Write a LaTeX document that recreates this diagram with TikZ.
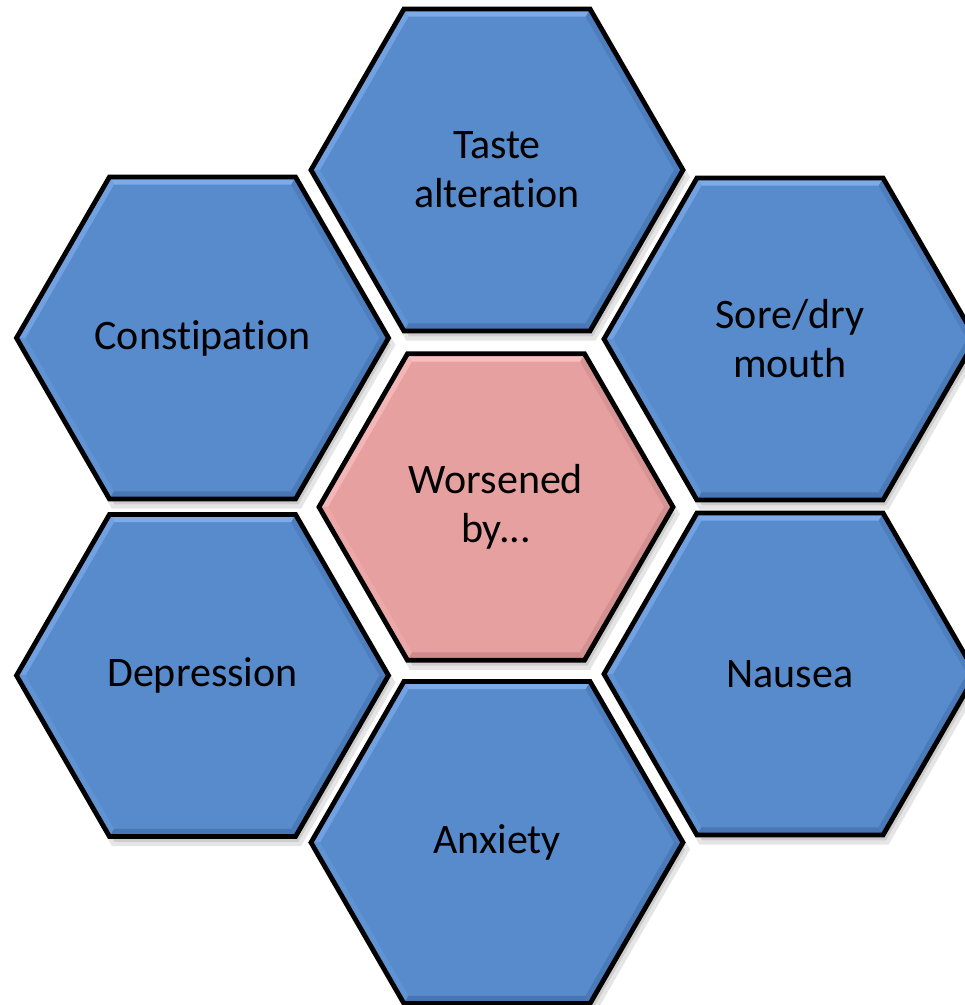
\documentclass[tikz,border=0pt]{standalone}
\usepackage{fontspec}
\setmainfont[RawFeature={-liga;-clig;-dlig;-calt}]{Carlito}
\usetikzlibrary{calc}
\definecolor{bluebase}{RGB}{87,139,204}
\definecolor{bluelight}{RGB}{124,171,234}
\definecolor{bluedark}{RGB}{72,118,180}
\definecolor{pinkbase}{RGB}{230,160,159}
\definecolor{pinklight}{RGB}{248,190,190}
\definecolor{pinkdark}{RGB}{206,140,140}
\tikzset{
  hexline/.style={draw=black,line width=4.8pt,line join=miter},
  hexlabel/.style={font=\fontsize{42}{49}\selectfont,align=center,text=black,inner sep=0pt},
  hexshadow/.style={fill=black,opacity=0.10}
}
% #1 name, #2 x, #3 y, #4 radius, #5 base, #6 light, #7 dark, #8 text
\newcommand\hexcell[8]{%
  \coordinate (#1-c) at (#2,#3);
  \foreach \i in {0,...,5}{%
    \coordinate (#1-o\i) at ($(#1-c)+(\i*60:#4)$);
    \coordinate (#1-n\i) at ($(#1-c)+(\i*60:#4-9)$);
    \coordinate (#1-s\i) at ($(#1-c)+(4,-7)+(\i*60:#4+3)$);
    \coordinate (#1-t\i) at ($(#1-c)+(4,-7)+(\i*60:#4-2)$);
  }
  \fill[hexshadow] (#1-s0)--(#1-s1)--(#1-s2)--(#1-s3)--(#1-s4)--(#1-s5)--cycle;
  \fill[hexshadow] (#1-t0)--(#1-t1)--(#1-t2)--(#1-t3)--(#1-t4)--(#1-t5)--cycle;
  \fill[#5] (#1-o0)--(#1-o1)--(#1-o2)--(#1-o3)--(#1-o4)--(#1-o5)--cycle;
  \fill[#7!60!#5] (#1-o0)--(#1-o1)--(#1-n1)--(#1-n0)--cycle;
  \fill[#6] (#1-o1)--(#1-o2)--(#1-n2)--(#1-n1)--cycle;
  \fill[#6!70!#5] (#1-o2)--(#1-o3)--(#1-n3)--(#1-n2)--cycle;
  \fill[#6!25!#5] (#1-o3)--(#1-o4)--(#1-n4)--(#1-n3)--cycle;
  \fill[#7] (#1-o4)--(#1-o5)--(#1-n5)--(#1-n4)--cycle;
  \fill[#7!80!#5] (#1-o5)--(#1-o0)--(#1-n0)--(#1-n5)--cycle;
  \draw[hexline] (#1-o0)--(#1-o1)--(#1-o2)--(#1-o3)--(#1-o4)--(#1-o5)--cycle;
  \node[hexlabel] (#1) at (#1-c) {#8};
}
\begin{document}
\begin{tikzpicture}[x=1pt,y=1pt]
\useasboundingbox (0,0) rectangle (965,1005);
\clip (0,0) rectangle (965,1005);
\fill[white] (0,0) rectangle (965,1005);
\hexcell{taste}{497}{835}{186}{bluebase}{bluelight}{bluedark}{Taste\\alteration}
\hexcell{const}{202.5}{667}{186}{bluebase}{bluelight}{bluedark}{Consti\kern0pt pation}
\hexcell{sore}{790}{666}{186}{bluebase}{bluelight}{bluedark}{Sore/dry\\mouth}
\hexcell{depr}{202.5}{329.5}{186}{bluebase}{bluelight}{bluedark}{Depression}
\hexcell{naus}{790}{331}{186}{bluebase}{bluelight}{bluedark}{Nausea}
\hexcell{anx}{497}{162.5}{186}{bluebase}{bluelight}{bluedark}{Anxiety}
\hexcell{worse}{496}{498}{177}{pinkbase}{pinklight}{pinkdark}{Worsened\\by...}
\end{tikzpicture}
\end{document}
